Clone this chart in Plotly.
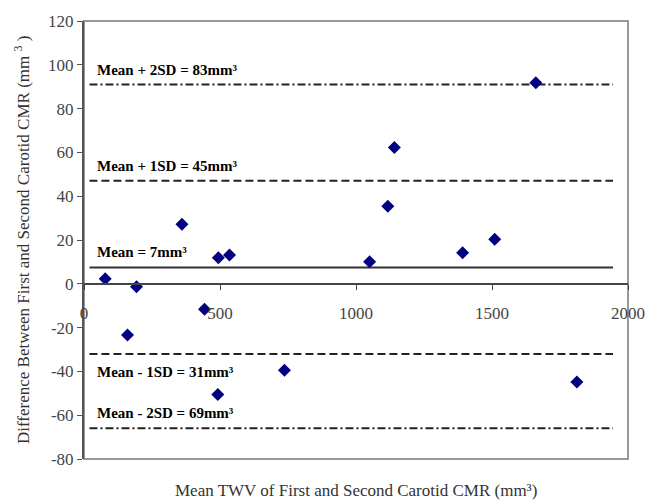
import plotly.graph_objects as go

# Data
mean_twv = [78, 193, 160, 360, 443, 494, 535, 492, 737, 1050, 1117, 1141, 1392, 1510, 1661, 1812]
difference = [2.3, -1.3, -23.4, 27.2, -11.6, 11.9, 13.2, -50.5, -39.5, 10.1, 35.4, 62.2, 14.2, 20.3, 91.8, -44.8]

line_values = [91, 47, 7.5, -32, -66]
line_labels = ["Mean + 2SD = 83mm³", "Mean + 1SD = 45mm³", "Mean = 7mm³",
               "Mean - 1SD = 31mm³", "Mean - 2SD = 69mm³"]
line_dashes = ["8px,3px,2px,3px", "8px,4px", "solid", "8px,4px", "8px,3px,2px,3px"]
label_shift = [15, 15, 15, -18, 15]
line_x = [20, 1945]

x_ticks = [0, 500, 1000, 1500, 2000]
y_ticks = [-80, -60, -40, -20, 0, 20, 40, 60, 80, 100, 120]
x_range = [0, 2000]
y_range = [-80, 120]

serif = "Liberation Serif"

fig = go.Figure()

for v, d in zip(line_values, line_dashes):
    fig.add_trace(go.Scatter(
        x=line_x, y=[v, v], mode="lines",
        line=dict(color="#222222" if d != "solid" else "#333333", width=2, dash=d),
        hoverinfo="skip", showlegend=False))

fig.add_trace(go.Scatter(
    x=mean_twv, y=difference, mode="markers",
    marker=dict(symbol="diamond", size=10, color="#000080"),
    showlegend=False))

for v, t, s in zip(line_values, line_labels, label_shift):
    fig.add_annotation(x=40, y=v, text="<b>" + t + "</b>", showarrow=False,
                       xanchor="left", yanchor="middle", yshift=s,
                       font=dict(family=serif, size=15, color="#000000"))

fig.update_layout(
    width=657, height=500,
    margin=dict(l=84, r=28, t=17, b=41),
    paper_bgcolor="white", plot_bgcolor="white",
    font=dict(family=serif, size=17, color="#444444"),
    xaxis=dict(range=x_range, tickvals=x_ticks, ticktext=[str(t) for t in x_ticks],
               showgrid=False, zeroline=False, showline=True, linecolor="#444444",
               linewidth=2, ticks="outside", ticklen=5, tickcolor="#444444",
               anchor="free", position=(0 - y_range[0]) / (y_range[1] - y_range[0]),
               ticklabelstandoff=9,
               tickfont=dict(family=serif, size=17, color="#444444")),
    yaxis=dict(range=y_range, tickvals=y_ticks, ticktext=[str(t) for t in y_ticks],
               showgrid=False, zeroline=False, showline=True, linecolor="#555555",
               linewidth=2, ticks="outside", ticklen=5, tickcolor="#555555",
               tickfont=dict(family=serif, size=17, color="#444444")),
    shapes=[dict(type="rect", xref="paper", yref="paper", x0=0, x1=1, y0=0, y1=1,
                 line=dict(color="#999999", width=2), layer="below")],
)

fig.add_annotation(xref="paper", yref="paper", x=0.5, y=0, yshift=-31,
                   text="Mean TWV of First and Second Carotid CMR (mm³)",
                   showarrow=False, xanchor="center", yanchor="middle",
                   font=dict(family=serif, size=17, color="#333333"))
fig.add_annotation(xref="paper", yref="paper", x=0, y=0.5, xshift=-62,
                   text="Difference Between First and Second Carotid CMR (mm <sup>3</sup> )",
                   showarrow=False, textangle=-90, xanchor="center", yanchor="middle",
                   font=dict(family=serif, size=17, color="#333333"))

fig.write_html("out.html", config={"displayModeBar": False},
               post_script="document.body.style.margin='0px';")
